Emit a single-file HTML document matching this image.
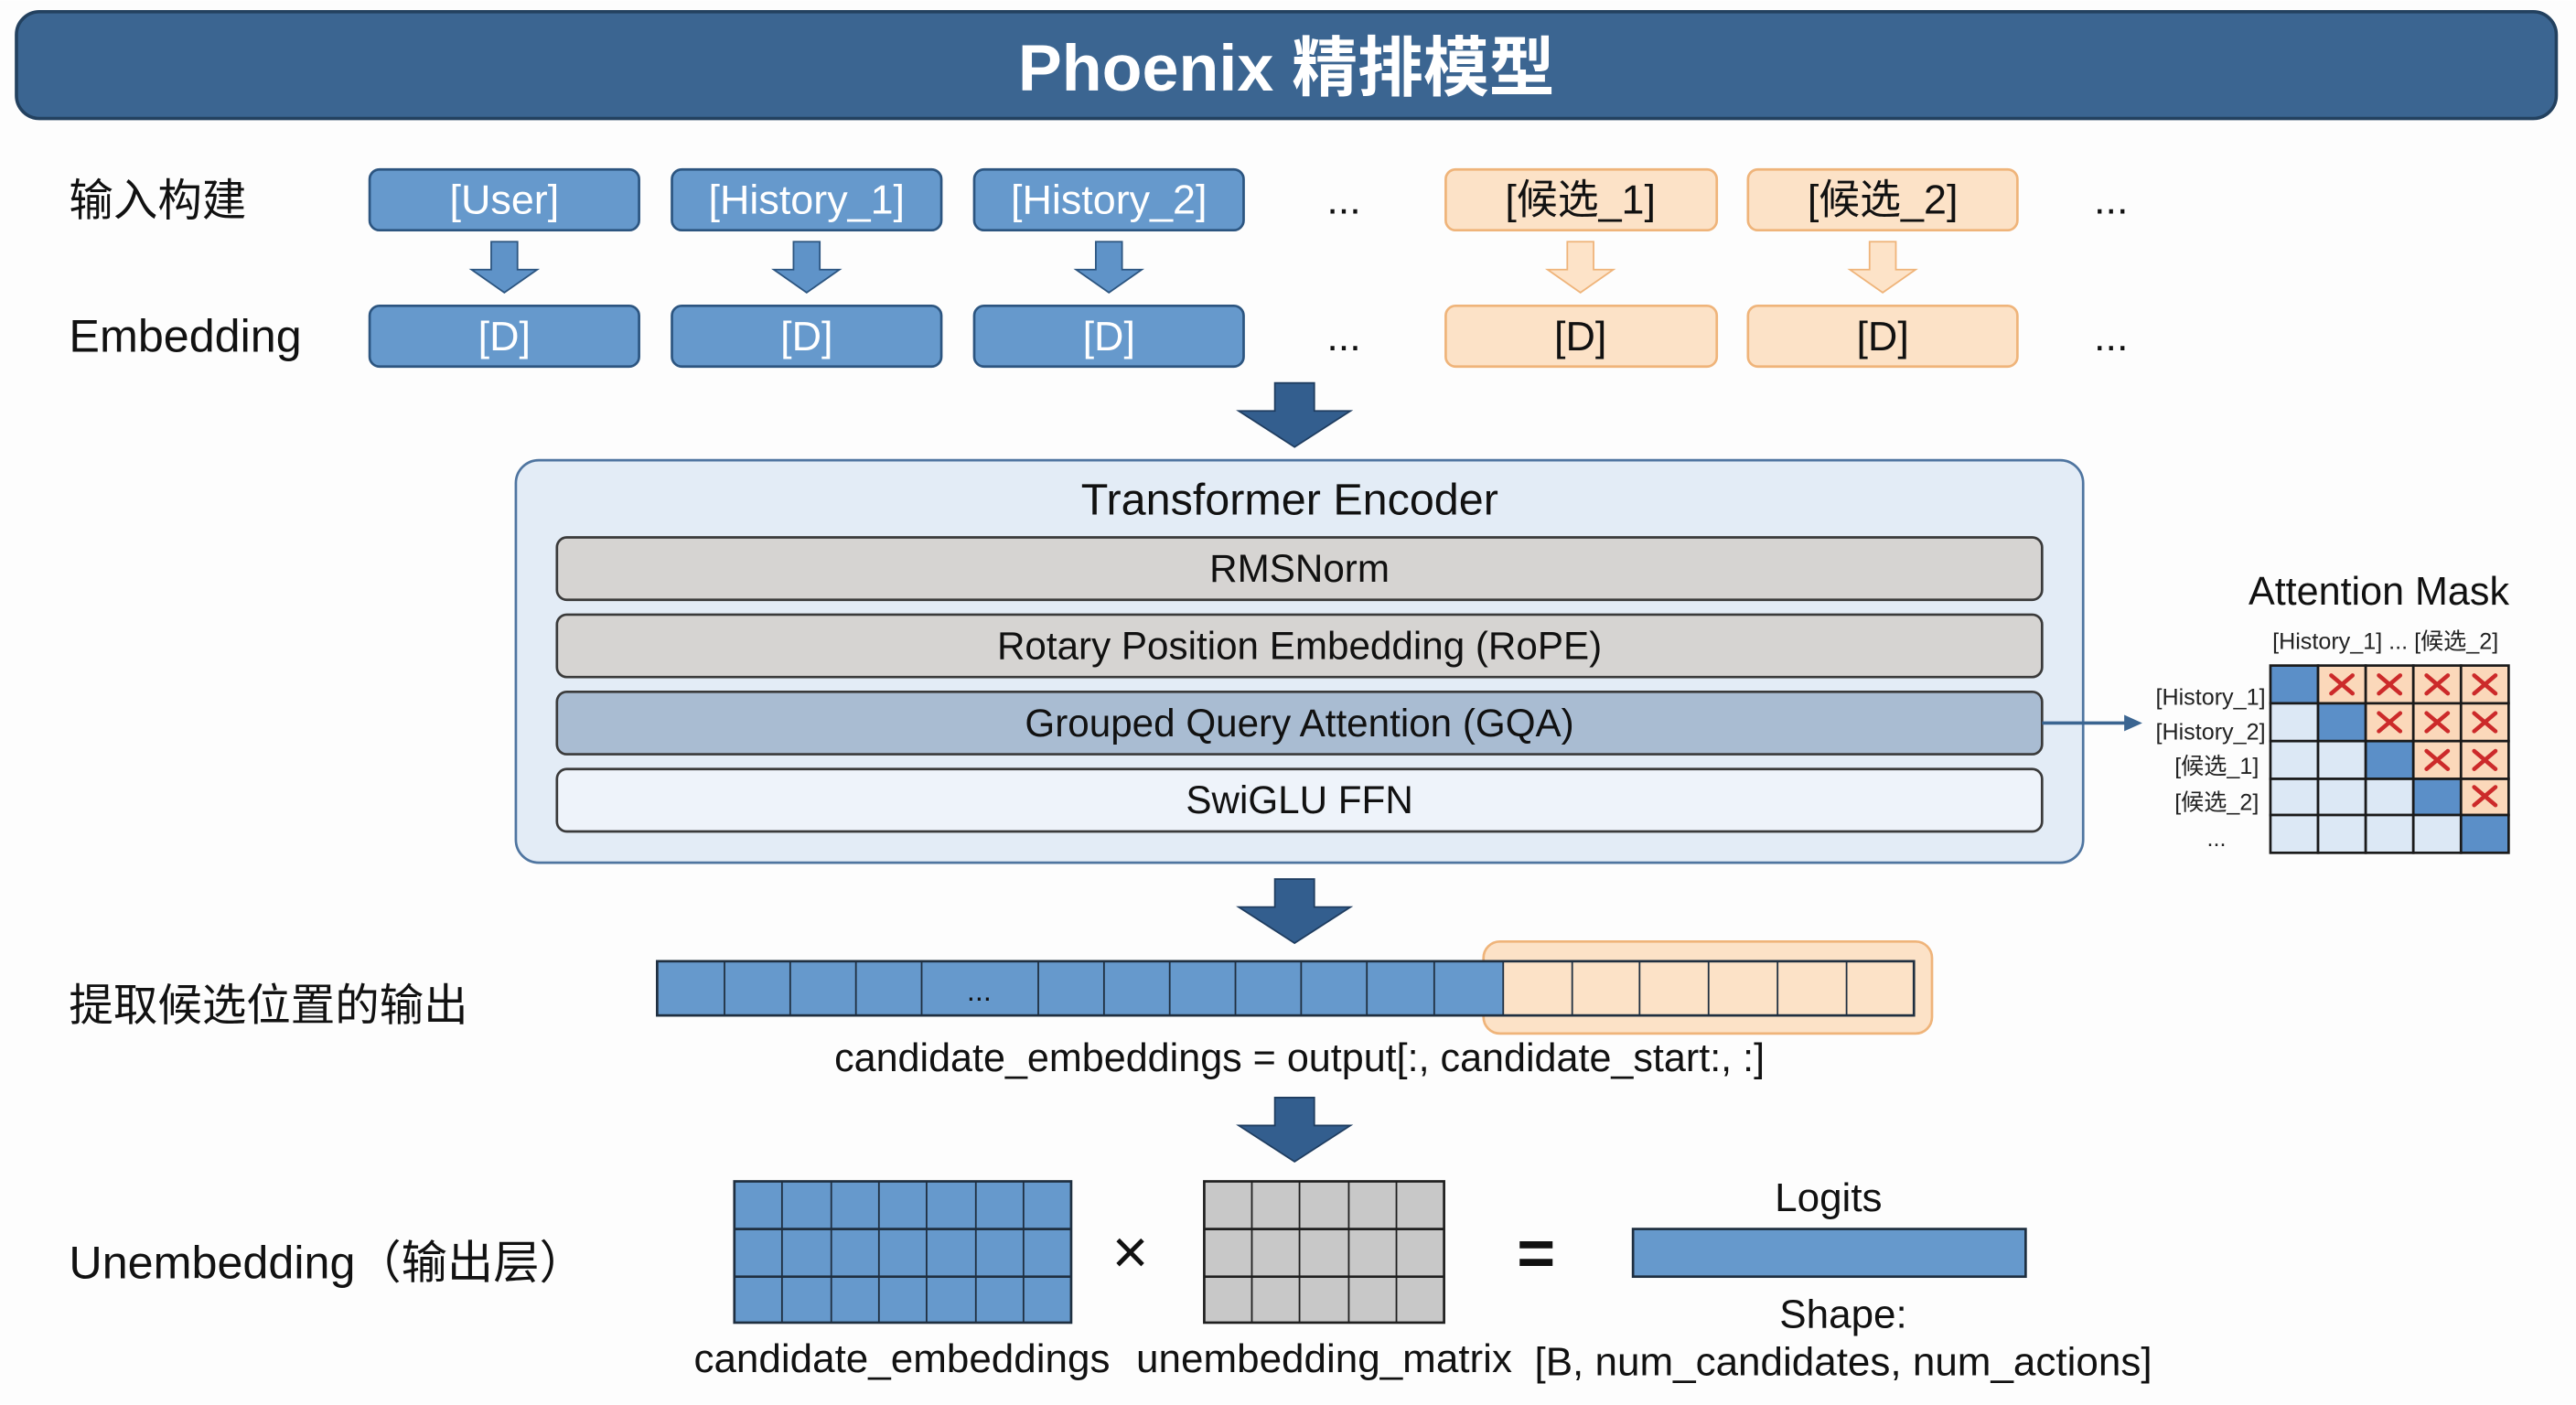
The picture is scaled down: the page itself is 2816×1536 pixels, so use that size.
<!DOCTYPE html>
<html><head><meta charset="utf-8"><style>
html,body{margin:0;padding:0;background:#fff;}
svg{display:block;}
text{font-family:"Liberation Sans","Noto Sans CJK SC",sans-serif;}
</style></head><body>
<svg width="2816" height="1536" viewBox="0 0 1568 855" xmlns="http://www.w3.org/2000/svg">
<rect width="1568" height="855" fill="#fdfdfd"/>
<rect x="10" y="7" width="1546" height="65" rx="14" fill="#3b6591" stroke="#23415f" stroke-width="2"/>
<text x="783" y="55" text-anchor="middle" font-size="40" font-weight="bold" fill="#fff">Phoenix 精排模型</text>

<text x="42" y="131" font-size="27" fill="#111">输入构建</text>
<text x="42" y="214" font-size="28" fill="#111">Embedding</text>
<text x="42" y="621" font-size="27" fill="#111">提取候选位置的输出</text>
<text x="42" y="778" font-size="28" fill="#111">Unembedding（输出层）</text>

<g stroke="#2c5580" stroke-width="1.5" fill="#6699cc">
<rect x="225" y="103" width="164" height="37" rx="6"/>
<rect x="409" y="103" width="164" height="37" rx="6"/>
<rect x="593" y="103" width="164" height="37" rx="6"/>
<rect x="225" y="186" width="164" height="37" rx="6"/>
<rect x="409" y="186" width="164" height="37" rx="6"/>
<rect x="593" y="186" width="164" height="37" rx="6"/>
</g>
<g stroke="#efb47a" stroke-width="1.5" fill="#fce2c7">
<rect x="880" y="103" width="165" height="37" rx="6"/>
<rect x="1064" y="103" width="164" height="37" rx="6"/>
<rect x="880" y="186" width="165" height="37" rx="6"/>
<rect x="1064" y="186" width="164" height="37" rx="6"/>
</g>
<g font-size="25" text-anchor="middle" fill="#fff">
<text x="307" y="130">[User]</text>
<text x="491" y="130">[History_1]</text>
<text x="675" y="130">[History_2]</text>
<text x="307" y="213">[D]</text>
<text x="491" y="213">[D]</text>
<text x="675" y="213">[D]</text>
</g>
<g font-size="25" text-anchor="middle" fill="#111">
<text x="962" y="130">[候选_1]</text>
<text x="1146" y="130">[候选_2]</text>
<text x="962" y="213">[D]</text>
<text x="1146" y="213">[D]</text>
<text x="818" y="130">...</text>
<text x="1285" y="130">...</text>
<text x="818" y="213">...</text>
<text x="1285" y="213">...</text>
</g>
<g fill="#5f93c8" stroke="#2c5580" stroke-width="1">
<path d="M299,147 h16 v17 h12 l-20,14 l-20,-14 h12 z"/>
<path d="M483,147 h16 v17 h12 l-20,14 l-20,-14 h12 z"/>
<path d="M667,147 h16 v17 h12 l-20,14 l-20,-14 h12 z"/>
</g>
<g fill="#fde3c8" stroke="#efb47a" stroke-width="1">
<path d="M954,147 h16 v17 h12 l-20,14 l-20,-14 h12 z"/>
<path d="M1138,147 h16 v17 h12 l-20,14 l-20,-14 h12 z"/>
</g>
<g fill="#335e8e" stroke="#1f3d60" stroke-width="1">
<path d="M776,233 h24 v17 h22 l-34,22 l-34,-22 h22 z"/>
<path d="M776,535 h24 v17 h22 l-34,22 l-34,-22 h22 z"/>
<path d="M776,668 h24 v17 h22 l-34,22 l-34,-22 h22 z"/>
</g>

<rect x="314" y="280" width="954" height="245" rx="14" fill="#e3ecf6" stroke="#4f75a0" stroke-width="1.5"/>
<text x="785" y="313" text-anchor="middle" font-size="27" fill="#111">Transformer Encoder</text>
<g stroke="#3a3a3a" stroke-width="1.5">
<rect x="339" y="327" width="904" height="38" rx="6" fill="#d6d4d2"/>
<rect x="339" y="374" width="904" height="38" rx="6" fill="#d6d4d2"/>
<rect x="339" y="421" width="904" height="38" rx="6" fill="#a9bcd2"/>
<rect x="339" y="468" width="904" height="38" rx="6" fill="#eef3fa"/>
</g>
<g font-size="23.5" text-anchor="middle" fill="#111">
<text x="791" y="354">RMSNorm</text>
<text x="791" y="401">Rotary Position Embedding (RoPE)</text>
<text x="791" y="448">Grouped Query Attention (GQA)</text>
<text x="791" y="495">SwiGLU FFN</text>
</g>
<line x1="1243" y1="440" x2="1295" y2="440" stroke="#3b6591" stroke-width="2"/>
<path d="M1293,435 l11,5 l-11,5 z" fill="#3b6591"/>

<text x="1448" y="368" text-anchor="middle" font-size="24" fill="#111">Attention Mask</text>
<text x="1452" y="395" text-anchor="middle" font-size="14" fill="#222">[History_1] ... [候选_2]</text>
<g font-size="14" text-anchor="end" fill="#222">
<text x="1379" y="429">[History_1]</text>
<text x="1379" y="450">[History_2]</text>
<text x="1375" y="471">[候选_1]</text>
<text x="1375" y="493">[候选_2]</text>
<text x="1355" y="515">...</text>
</g>
<g stroke="#1a1a1a" stroke-width="1.5">
<rect x="1382" y="405" width="29" height="23" fill="#5b8fc8"/>
<rect x="1411" y="405" width="29" height="23" fill="#fbd8ba"/>
<rect x="1440" y="405" width="29" height="23" fill="#fbd8ba"/>
<rect x="1469" y="405" width="29" height="23" fill="#fbd8ba"/>
<rect x="1498" y="405" width="29" height="23" fill="#fbd8ba"/>
<rect x="1382" y="428" width="29" height="23" fill="#dce8f5"/>
<rect x="1411" y="428" width="29" height="23" fill="#5b8fc8"/>
<rect x="1440" y="428" width="29" height="23" fill="#fbd8ba"/>
<rect x="1469" y="428" width="29" height="23" fill="#fbd8ba"/>
<rect x="1498" y="428" width="29" height="23" fill="#fbd8ba"/>
<rect x="1382" y="451" width="29" height="23" fill="#dce8f5"/>
<rect x="1411" y="451" width="29" height="23" fill="#dce8f5"/>
<rect x="1440" y="451" width="29" height="23" fill="#5b8fc8"/>
<rect x="1469" y="451" width="29" height="23" fill="#fbd8ba"/>
<rect x="1498" y="451" width="29" height="23" fill="#fbd8ba"/>
<rect x="1382" y="474" width="29" height="22" fill="#dce8f5"/>
<rect x="1411" y="474" width="29" height="22" fill="#dce8f5"/>
<rect x="1440" y="474" width="29" height="22" fill="#dce8f5"/>
<rect x="1469" y="474" width="29" height="22" fill="#5b8fc8"/>
<rect x="1498" y="474" width="29" height="22" fill="#fbd8ba"/>
<rect x="1382" y="496" width="29" height="23" fill="#dce8f5"/>
<rect x="1411" y="496" width="29" height="23" fill="#dce8f5"/>
<rect x="1440" y="496" width="29" height="23" fill="#dce8f5"/>
<rect x="1469" y="496" width="29" height="23" fill="#dce8f5"/>
<rect x="1498" y="496" width="29" height="23" fill="#5b8fc8"/>
</g>
<g stroke="#cc2a2a" stroke-width="2.5" stroke-linecap="round">
<path d="M1419,411 l13,11 M1432,411 l-13,11"/>
<path d="M1448,411 l13,11 M1461,411 l-13,11"/>
<path d="M1477,411 l13,11 M1490,411 l-13,11"/>
<path d="M1506,411 l13,11 M1519,411 l-13,11"/>
<path d="M1448,434 l13,11 M1461,434 l-13,11"/>
<path d="M1477,434 l13,11 M1490,434 l-13,11"/>
<path d="M1506,434 l13,11 M1519,434 l-13,11"/>
<path d="M1477,457 l13,11 M1490,457 l-13,11"/>
<path d="M1506,457 l13,11 M1519,457 l-13,11"/>
<path d="M1506,479 l13,11 M1519,479 l-13,11"/>
</g>

<rect x="903" y="573" width="273" height="56" rx="10" fill="#fce2c7" stroke="#efb47a" stroke-width="1.5"/>
<rect x="400" y="585" width="515" height="33" fill="#6699cc"/>
<rect x="915" y="585" width="250" height="33" fill="#fce2c7"/>
<rect x="400" y="585" width="765" height="33" fill="none" stroke="#1f2f40" stroke-width="1.5"/>
<g stroke="#1f2f40" stroke-width="1">
<line x1="441" y1="585" x2="441" y2="618"/><line x1="481" y1="585" x2="481" y2="618"/>
<line x1="521" y1="585" x2="521" y2="618"/><line x1="561" y1="585" x2="561" y2="618"/>
<line x1="632" y1="585" x2="632" y2="618"/><line x1="672" y1="585" x2="672" y2="618"/>
<line x1="712" y1="585" x2="712" y2="618"/><line x1="752" y1="585" x2="752" y2="618"/>
<line x1="792" y1="585" x2="792" y2="618"/><line x1="832" y1="585" x2="832" y2="618"/>
<line x1="873" y1="585" x2="873" y2="618"/><line x1="915" y1="585" x2="915" y2="618"/>
<line x1="957" y1="585" x2="957" y2="618"/><line x1="998" y1="585" x2="998" y2="618"/>
<line x1="1040" y1="585" x2="1040" y2="618"/><line x1="1082" y1="585" x2="1082" y2="618"/>
<line x1="1124" y1="585" x2="1124" y2="618"/>
</g>
<text x="596" y="609" text-anchor="middle" font-size="18" fill="#111">...</text>
<text x="791" y="652" text-anchor="middle" font-size="24" fill="#111">candidate_embeddings = output[:, candidate_start:, :]</text>

<rect x="447" y="719" width="205" height="86" fill="#6699cc" stroke="#1f2f40" stroke-width="1.5"/>
<g stroke="#1f2f40" stroke-width="1">
<line x1="476" y1="719" x2="476" y2="805"/><line x1="506" y1="719" x2="506" y2="805"/>
<line x1="535" y1="719" x2="535" y2="805"/><line x1="564" y1="719" x2="564" y2="805"/>
<line x1="594" y1="719" x2="594" y2="805"/><line x1="623" y1="719" x2="623" y2="805"/>
<line x1="447" y1="748" x2="652" y2="748" stroke-width="1.5"/><line x1="447" y1="777" x2="652" y2="777" stroke-width="1.5"/>
</g>
<rect x="733" y="719" width="146" height="86" fill="#c8c8c8" stroke="#1f1f1f" stroke-width="1.5"/>
<g stroke="#1f1f1f" stroke-width="1">
<line x1="762" y1="719" x2="762" y2="805"/><line x1="791" y1="719" x2="791" y2="805"/>
<line x1="821" y1="719" x2="821" y2="805"/><line x1="850" y1="719" x2="850" y2="805"/>
<line x1="733" y1="748" x2="879" y2="748" stroke-width="1.5"/><line x1="733" y1="777" x2="879" y2="777" stroke-width="1.5"/>
</g>
<text x="688" y="775" text-anchor="middle" font-size="38" fill="#111">×</text>
<text x="935" y="776" text-anchor="middle" font-size="40" font-weight="bold" fill="#111">=</text>
<rect x="994" y="748" width="239" height="29" fill="#6699cc" stroke="#1f2f40" stroke-width="1.5"/>
<g font-size="24.5" text-anchor="middle" fill="#111">
<text x="1113" y="737">Logits</text>
<text x="1122" y="808">Shape:</text>
<text x="1122" y="837">[B, num_candidates, num_actions]</text>
<text x="549" y="835">candidate_embeddings</text>
<text x="806" y="835">unembedding_matrix</text>
</g>
</svg>
</body></html>
